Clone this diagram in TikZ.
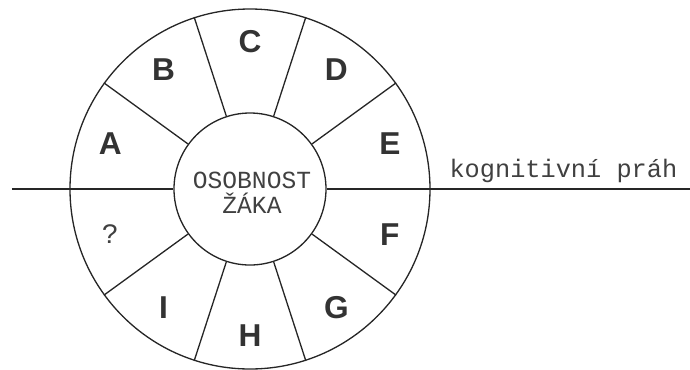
\documentclass[tikz,border=0pt]{standalone}
\usepackage{fontspec}
\setsansfont{Liberation Sans}
\setmonofont{Liberation Mono}
\usepackage{tikz}

\begin{document}
\begin{tikzpicture}[line width=0.75pt, draw=black!85,
        sector/.style={font=\sffamily\bfseries\fontsize{18}{20}\selectfont, text=black!80},
        typed/.style={font=\ttfamily\fontsize{14}{14.2}\selectfont, text=black!75}]
        	\useasboundingbox (-5, -3.6) rectangle (8.8, 3.78);
        	% Circles, spokes and threshold line:
        	\node[shape=circle, draw, inner sep=0pt, minimum size=7.2cm](rim) at (0, 0){};
        	\node[shape=circle, draw, inner sep=0pt, minimum size=3.04cm](core) at (0, 0){};
        	\node[typed, align=center, anchor=center] at (0.04, -0.08){OSOBNOST\\ŽÁKA};
        	\draw (core.36) -- (rim.36);
        	\draw (core.72) -- (rim.72);
        	\draw (core.108) -- (rim.108);
        	\draw (core.144) -- (rim.144);
        	\draw (core.216) -- (rim.216);
        	\draw (core.252) -- (rim.252);
        	\draw (core.288) -- (rim.288);
        	\draw (core.324) -- (rim.324);
        	\coordinate (T1) at (-4.76, 0);
        	\coordinate (T2) at (8.8, 0);
        	\draw (T1) -- (core.west);
        	\draw (core.east) -- (T2);
        	\node[typed, font=\ttfamily\fontsize{14.4}{16}\selectfont, anchor=base west](N1) at (3.86, 0.24){kognitivní práh};
        	% Sector letters:
        	\node[sector](E) at (18:2.94){E};
        	\node[sector](D) at (54:2.94){D};
        	\node[sector](C) at (90:2.94){C};
        	\node[sector](B) at (126:2.94){B};
        	\node[sector](A) at (162:2.94){A};
        	\node[typed, font=\ttfamily\fontsize{16}{18}\selectfont](Q) at (198:2.94){?};
        	\node[sector](I) at (234:2.94){I};
        	\node[sector](H) at (270:2.94){H};
        	\node[sector](G) at (306:2.94){G};
        	\node[sector](F) at (342:2.94){F};
        \end{tikzpicture}
\end{document}
